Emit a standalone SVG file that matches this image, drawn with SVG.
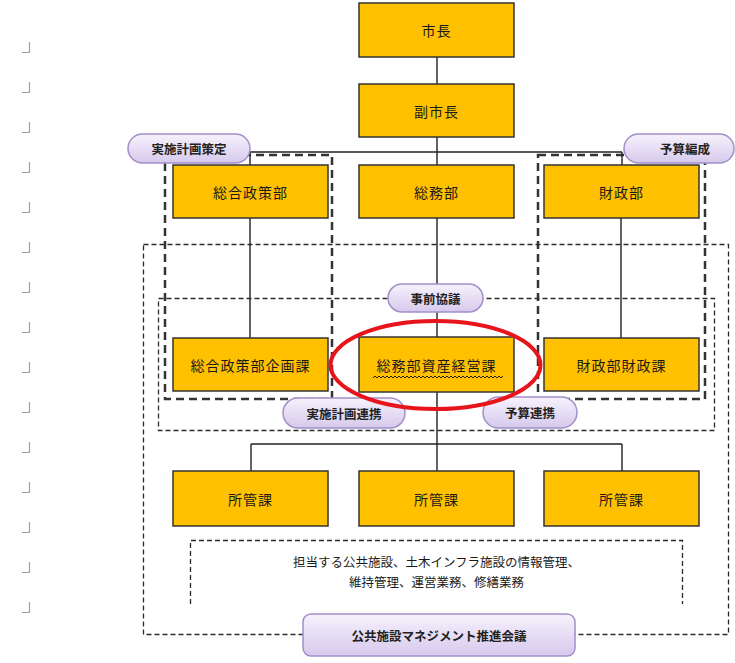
<svg xmlns="http://www.w3.org/2000/svg" width="735" height="663" viewBox="0 0 735 663">
<defs>
<linearGradient id="pg" x1="0" y1="0" x2="0" y2="1">
<stop offset="0" stop-color="#f6f2fc"/>
<stop offset="1" stop-color="#d6c9ec"/>
</linearGradient>
<style>
.box{fill:#ffc000;stroke:#333;stroke-width:1.5}
.bt{font-family:"Noto Sans CJK JP","Noto Sans",sans-serif;font-size:14px;fill:#1a1a1a;text-anchor:middle;dominant-baseline:central;letter-spacing:1px}
.pill{fill:url(#pg);stroke:#a28fc9;stroke-width:1.5}
.pt{font-family:"Noto Sans CJK JP","Noto Sans",sans-serif;font-size:12.5px;font-weight:bold;fill:#222;text-anchor:middle;dominant-baseline:central}
.ln{stroke:#222;stroke-width:1.4;fill:none}
.dthin{stroke:#2a2a2a;stroke-width:1.3;fill:none;stroke-dasharray:5 3}
.dthick{stroke:#333;stroke-width:2.5;fill:none;stroke-dasharray:8 5}
.pm{stroke:#a0a0a0;stroke-width:1.2;fill:none}
.nt{font-family:"Noto Sans CJK JP","Noto Sans",sans-serif;font-size:12.5px;fill:#1a1a1a;text-anchor:middle}
</style>
<marker id="ah" markerWidth="6" markerHeight="6" refX="1" refY="3" orient="auto" markerUnits="userSpaceOnUse">
<path d="M6,0 L0,3 L6,6" fill="none" stroke="#999" stroke-width="1"/>
</marker>
</defs>
<rect width="735" height="663" fill="#fff"/>

<g id="para-marks">
<path class="pm" d="M22,52.5 H29.5 V42 M22,92.5 H29.5 V82 M22,132.5 H29.5 V122 M22,172.5 H29.5 V162 M22,212.5 H29.5 V202 M22,252.5 H29.5 V242 M22,292.5 H29.5 V282 M22,332.5 H29.5 V322 M22,372.5 H29.5 V362 M22,412.5 H29.5 V402 M22,452.5 H29.5 V442 M22,492.5 H29.5 V482 M22,532.5 H29.5 V522 M22,572.5 H29.5 V562 M22,612.5 H29.5 V602"/>
</g>

<g id="frames">
<rect class="dthin" x="143.5" y="244.5" width="585" height="390"/>
<rect class="dthin" x="158.5" y="298.5" width="556" height="132"/>
<rect class="dthick" x="165" y="155" width="167" height="244"/>
<rect class="dthick" x="538" y="155" width="167" height="244"/>
<path class="dthin" d="M190.5,604 V540.5 H682.5 V604"/>
</g>

<g id="connectors">
<path class="ln" d="M437,57 V84 M437,137 V152 M250,152 H622 M250,152 V165 M437,152 V165 M622,152 V165 M250,218 V338 M437,218 V337 M621,218 V338 M437,392 V471 M251,444 H622 M251,444 V471 M622,444 V471"/>
<line x1="506" y1="366" x2="515" y2="366" stroke="#999" stroke-width="1" marker-start="url(#ah)"/>
</g>

<g id="n-mayor"><rect class="box" x="359" y="3" width="155" height="54"/><text class="bt" x="436.5" y="30">市長</text></g>
<g id="n-vicemayor"><rect class="box" x="359" y="84" width="155" height="53"/><text class="bt" x="436.5" y="110.5">副市長</text></g>

<g id="n-seisaku"><rect class="box" x="173" y="165" width="155" height="53"/><text class="bt" x="250.5" y="191.5">総合政策部</text></g>
<g id="n-somu"><rect class="box" x="359" y="165" width="155" height="53"/><text class="bt" x="436.5" y="191.5">総務部</text></g>
<g id="n-zaisei"><rect class="box" x="544" y="165" width="155" height="53"/><text class="bt" x="621.5" y="191.5">財政部</text></g>

<g id="n-kikaku"><rect class="box" x="173" y="338" width="155" height="53"/><text class="bt" x="250.5" y="364.5">総合政策部企画課</text></g>
<g id="n-shisan"><rect class="box" x="359" y="337" width="155" height="55"/><text class="bt" x="436.5" y="364.5">総務部資産経営課</text>
<path d="M373,378 l2,-2 l2,2 l2,-2 l2,2 l2,-2 l2,2 l2,-2 l2,2 l2,-2 l2,2 l2,-2 l2,2 l2,-2 l2,2 l2,-2 l2,2 l2,-2 l2,2 l2,-2 l2,2 l2,-2 l2,2 l2,-2 l2,2 l2,-2 l2,2 l2,-2 l2,2 l2,-2 l2,2 l2,-2 l2,2 l2,-2 l2,2 l2,-2 l2,2 l2,-2 l2,2 l2,-2 l2,2 l2,-2 l2,2 l2,-2 l2,2 l2,-2 l2,2 l2,-2 l2,2 l2,-2 l2,2 l2,-2 l2,2 l2,-2 l2,2 l2,-2 l2,2 l2,-2 l2,2 l2,-2 l2,2 l2,-2 l2,2 l2,-2 l2,2 l2,-2" fill="none" stroke="#222" stroke-width="1"/></g>
<g id="n-zaiseika"><rect class="box" x="544" y="338" width="155" height="53"/><text class="bt" x="621.5" y="364.5">財政部財政課</text></g>

<g id="n-shokan1"><rect class="box" x="173" y="471" width="155" height="55"/><text class="bt" x="250.5" y="498.5">所管課</text></g>
<g id="n-shokan2"><rect class="box" x="359" y="471" width="155" height="55"/><text class="bt" x="436.5" y="498.5">所管課</text></g>
<g id="n-shokan3"><rect class="box" x="544" y="471" width="155" height="55"/><text class="bt" x="621.5" y="498.5">所管課</text></g>

<g id="n-note">
<text class="nt" x="436.5" y="567">担当する公共施設、土木インフラ施設の情報管理、</text>
<text class="nt" x="436.5" y="587">維持管理、運営業務、修繕業務</text>
</g>

<g id="p-jisshi"><rect class="pill" x="128" y="134" width="122" height="29" rx="14.5"/><text class="pt" x="189" y="148.5">実施計画策定</text></g>
<g id="p-yosan"><rect class="pill" x="624" y="134" width="110" height="29" rx="14.5"/><text class="pt" x="685" y="148.5">予算編成</text></g>
<g id="p-jizen"><rect class="pill" x="388" y="284" width="95" height="28" rx="14"/><text class="pt" x="435.5" y="298">事前協議</text></g>
<g id="p-jisshirenkei"><rect class="pill" x="283" y="398" width="122" height="30" rx="15"/><text class="pt" x="344" y="413">実施計画連携</text></g>
<g id="p-yosanrenkei"><rect class="pill" x="483" y="397" width="94" height="31" rx="15.5"/><text class="pt" x="530" y="412.5">予算連携</text></g>
<g id="p-kaigi"><rect class="pill" x="303" y="614" width="272" height="42" rx="8"/><text class="pt" x="439" y="635">公共施設マネジメント推進会議</text></g>

<g id="highlight">
<ellipse cx="435.5" cy="365" rx="105" ry="44" fill="none" stroke="#e8141b" stroke-width="4"/>
</g>
</svg>
